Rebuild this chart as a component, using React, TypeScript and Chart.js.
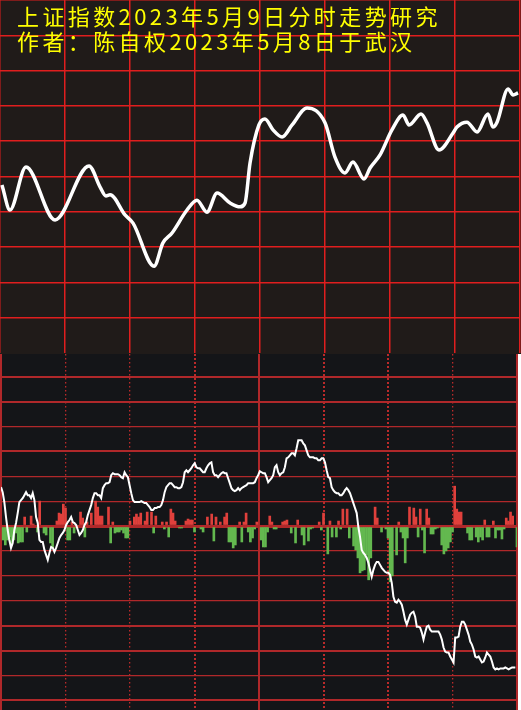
import React, { useEffect, useRef } from "react";
import { Chart, registerables } from "chart.js";

Chart.register(...registerables);

// ---------- text ----------
const TITLE_LINES = [
  "上证指数2023年5月9日分时走势研究",
  "作者：陈自权2023年5月8日于武汉",
];

// ---------- top panel: forecast curve (minute of session, grid level 0..10) ----------
const FORECAST_MINUTE = [
  0.9, 4.6, 12.0, 25.4, 41.1, 46.2, 48.9, 50.8, 57.7, 61.4,
  71.1, 75.2, 79.4, 86.3, 90.9, 95.5, 100.2, 106.2, 110.8, 113.1,
  115.4, 119.5, 122.3, 126.0, 130.2, 134.8, 141.7, 150.0, 154.6, 159.2,
  162.9, 168.0, 170.8, 175.4, 180.9, 186.0, 188.8, 194.3, 197.1, 202.6,
  209.1, 210.9, 215.5, 220.2, 225.2, 227.5, 229.4, 234.5, 236.8, 239.1,
];
const FORECAST_LEVEL = [
  4.76, 4.05, 5.27, 3.77, 5.3, 4.7, 4.45, 4.48, 3.91, 3.68,
  2.46, 3.12, 3.4, 4.05, 4.33, 3.99, 4.53, 4.25, 4.14, 4.25,
  5.38, 6.46, 6.63, 6.32, 6.12, 6.46, 6.94, 6.52, 5.55, 5.1,
  5.41, 4.93, 5.24, 5.61, 6.32, 6.74, 6.46, 6.77, 6.52, 5.75,
  6.23, 6.4, 6.54, 6.26, 6.77, 6.4, 6.54, 7.48, 7.31, 7.37,
];
const TOP_MINUTE_TICKS = [0, 30, 60, 90, 120, 150, 180, 210, 240];

// ---------- bottom panel: actual intraday line (evenly sampled over 240 min) ----------
const ACTUAL_LINE = [
  39, 34, 24, 9, -4, -14, -22, -17, -4, 3,
  13, 24, 26, 28, 31, 34, 31, 31, 28, 33,
  26, 9, 3, -14, -16, -16, -24, -29, -34, -27,
  -21, -22, -26, -22, -17, -12, -9, -7, -4, 1,
  4, 6, 9, 4, 3, 1, -4, -9, -7, -4,
  1, 4, 11, 16, 21, 28, 33, 33, 31, 31,
  28, 38, 41, 43, 43, 44, 51, 53, 52, 52,
  52, 51, 49, 48, 54, 51, 49, 41, 33, 26,
  24, 24, 24, 24, 25, 24, 23, 23, 21, 19,
  16, 16, 18, 18, 19, 19, 21, 26, 34, 39,
  41, 43, 43, 41, 39, 39, 38, 38, 39, 44,
  54, 56, 54, 56, 58, 61, 63, 59, 58, 58,
  56, 54, 54, 58, 61, 63, 64, 54, 51, 51,
  49, 51, 53, 54, 53, 53, 48, 43, 38, 36,
  35, 36, 38, 36, 38, 39, 40, 41, 43, 43,
  43, 43, 44, 48, 51, 55,
  54, 53, 53, 49, 44, 46, 48, 51, 59, 61,
  54, 51, 53, 54, 59, 68, 69, 71, 73, 73,
  71, 78, 86, 86, 86, 83, 81, 76, 71, 69,
  69, 69, 68, 68, 66, 66, 68, 68, 64, 56,
  49, 48, 39, 36, 34, 33, 33, 31, 31, 33,
  36, 38, 36, 33, 28, 23, 18, 13, -1, -11,
  -24, -27, -29, -32, -37, -44, -51, -44, -39, -36,
  -36, -39, -42, -44, -46, -47, -47, -49, -57, -71,
  -76, -77, -74, -76, -79, -86, -94, -99, -94, -89,
  -87, -86, -91, -101, -101, -102, -107, -114, -107, -101,
  -100, -104, -106, -106, -106, -106, -106, -109, -114, -122,
  -126, -127, -127, -131, -134, -137, -112, -112, -111, -101,
  -96, -96, -99, -104, -109, -116, -119, -124, -131, -132,
  -131, -134, -137, -136, -132, -127, -129, -131, -136, -142,
  -144, -143, -144, -143, -143, -143, -142, -143, -144, -143,
  -142, -142, -142,
];

// ---------- bottom panel: per-minute flow bars ----------
const FLOW_MINUTE = [
  1, 2, 3, 4, 5, 6, 7, 8, 9, 10, 11, 12, 14, 15, 17, 18, 20, 21, 23, 24,
  26, 27, 28, 29, 30, 31, 32, 33, 34, 37, 38, 39, 40, 42, 44, 45, 46, 47, 50, 51,
  52, 53, 54, 55, 56, 57, 58, 59, 60, 62, 63, 64, 65, 67, 68, 70, 71, 72, 75, 76,
  77, 78, 79, 80, 81, 83, 84, 86, 87, 88, 89, 90, 93, 94, 96, 98, 99, 100, 102, 104,
  105, 106, 107, 108, 109, 111, 112, 113, 114, 115, 116, 117, 118, 119,
  121, 122, 123, 124, 125, 126, 127, 128, 131, 132, 133, 135, 137, 138, 140, 141,
  143, 144, 145, 148, 149, 150, 152, 153, 154, 156, 157, 158, 159, 161, 162, 164,
  165, 166, 167, 168, 169, 170, 171, 172, 174, 175, 177, 179, 180, 181, 182, 184,
  185, 186, 187, 188, 189, 190, 192, 193, 194, 195, 196, 197, 198, 199, 200, 201,
  202, 203, 205, 206, 207, 208, 209, 210, 211, 212, 213, 214, 217, 218, 219, 221,
  222, 223, 224, 225, 226, 227, 229, 230, 231, 232, 233, 234, 235, 236, 237, 238, 240,
];
const FLOW_VALUE = [
  -14, -19, -14, -11, -19, -14, -7, -17, -16, -16, 9, -6, 10, 2, -6, 25, -7, -9, -17, -22,
  5, 13, 12, 22, 18, -14, -14, 4, -7, 14, 8, -11, 4, 13, 25, 19, 10, 10, 19, -17,
  4, -7, -6, -6, -4, -7, -12, -12, 5, 9, 12, 9, 13, 5, 14, 14, -7, 10, 4, -3,
  4, -11, 17, 13, 5, -2, -2, 5, 7, 6, 6, -6, -3, -6, 9, 12, -15, 9, 4, 9,
  13, -16, -16, -22, -19, 4, -16, 4, 13, -6, -16, -12, -3, 4,
  -14, -21, -21, -6, 10, 4, -3, -3, 4, 5, 6, -7, -17, 6, -9, -19,
  -15, -3, -2, 4, -4, 13, -28, 5, -11, -11, 5, -3, 17, 17, -12, -20,
  -24, -32, -47, -45, -44, -29, -54, -32, 19, 8, -6, -3, -12, -56, -50, -29,
  4, -6, -12, -37, -12, 19, 18, 9, -11, 17, -4, -27, 17, 8, -8, -8,
  -3, -2, -19, -28, -25, -22, -16, -6, 40, 17, 14, 14, -7, -14, -14, -11,
  -16, -11, -14, 6, -11, -11, 5, -12, -4, -4, -13, -3, 8, 5, 14, 10, -21,
];

const SESSION_MINUTES = 240;
const DOTTED_MINUTES = [30, 60, 90, 150, 180, 210];
const HEAVY_DOTTED = [90, 150, 180];
const SOLID_MINUTES = [0, 120, 240];
const LOWER_LEVELS = [-175, -150, -125, -100, -75, -50, -25, 0, 25, 50, 75, 100, 125, 150];
const THICK_LEVELS = [150, 125, 75, -100, -125, -175];

const TOP_BG = "#201b19";
const TOP_GRID = "#e01e1e";
const BOT_BG = "#141518";
const BOT_GRID = "#b0282a";
const DOT_GRID = "#bb2a2a";
const UP_RED = "#e0403c";
const DOWN_GREEN = "#63b84f";

export default function App() {
  const topRef = useRef<HTMLCanvasElement | null>(null);
  const botRef = useRef<HTMLCanvasElement | null>(null);

  useEffect(() => {
    const top = new Chart(topRef.current as HTMLCanvasElement, {
      type: "line",
      data: {
        datasets: [
          {
            data: FORECAST_MINUTE.map((m, i) => ({ x: m, y: FORECAST_LEVEL[i] })),
            borderColor: "#ffffff",
            borderWidth: 3.5,
            pointRadius: 0,
            cubicInterpolationMode: "monotone",
            fill: false,
          },
        ],
      },
      options: {
        animation: false,
        responsive: false,
        maintainAspectRatio: false,
        events: [],
        layout: { padding: { left: 0, right: 1, top: 0, bottom: 1 } },
        plugins: { legend: { display: false }, tooltip: { enabled: false } },
        scales: {
          x: {
            type: "linear",
            min: 0,
            max: SESSION_MINUTES,
            offset: false,
            afterBuildTicks: (s: any) => {
              s.ticks = TOP_MINUTE_TICKS.map((value) => ({ value }));
            },
            ticks: { display: false },
            grid: { offset: false, color: TOP_GRID, lineWidth: 1.5, drawTicks: false },
            border: { display: false },
          },
          y: {
            type: "linear",
            min: 0,
            max: 10,
            ticks: { display: false, stepSize: 1 },
            grid: {
              color: (c: any) => (c.tick && c.tick.value === 0 ? "rgba(0,0,0,0)" : TOP_GRID),
              lineWidth: 1.5,
              drawTicks: false,
            },
            border: { display: false },
          },
        },
      },
    } as any);

    const step = SESSION_MINUTES / ACTUAL_LINE.length;
    const bot = new Chart(botRef.current as HTMLCanvasElement, {
      type: "bar",
      data: {
        datasets: [
          {
            type: "line",
            data: ACTUAL_LINE.map((v, i) => ({ x: i * step, y: v })),
            borderColor: "#ffffff",
            borderWidth: 2,
            pointRadius: 0,
            tension: 0,
            fill: false,
            order: 0,
          },
          {
            type: "bar",
            data: FLOW_MINUTE.map((m, i) => ({ x: m, y: FLOW_VALUE[i] })),
            backgroundColor: FLOW_VALUE.map((v) => (v >= 0 ? UP_RED : DOWN_GREEN)),
            barThickness: 2,
            grouped: false,
            order: 1,
          },
        ],
      },
      options: {
        animation: false,
        responsive: false,
        maintainAspectRatio: false,
        events: [],
        layout: { padding: { left: 1, right: 1, top: 0, bottom: 0 } },
        plugins: { legend: { display: false }, tooltip: { enabled: false } },
        scales: {
          x: {
            type: "linear",
            min: 0,
            max: SESSION_MINUTES,
            offset: false,
            afterBuildTicks: (s: any) => {
              s.ticks = DOTTED_MINUTES.map((value) => ({ value }));
            },
            ticks: { display: false },
            grid: {
              offset: false,
              color: DOT_GRID,
              lineWidth: (c: any) => (c.tick && HEAVY_DOTTED.includes(c.tick.value) ? 2 : 1.3),
              drawTicks: false,
            },
            border: {
              display: false,
              dash: (c: any) => (c.tick && HEAVY_DOTTED.includes(c.tick.value) ? [2, 2] : [1.5, 2.5]),
            },
          },
          x2: {
            type: "linear",
            position: "bottom",
            min: 0,
            max: SESSION_MINUTES,
            offset: false,
            afterBuildTicks: (s: any) => {
              s.ticks = SOLID_MINUTES.map((value) => ({ value }));
            },
            ticks: { display: false },
            grid: {
              offset: false,
              color: BOT_GRID,
              lineWidth: (c: any) => (c.tick && c.tick.value === 240 ? 3 : 2),
              drawTicks: false,
            },
            border: { display: false },
          },
          y: {
            type: "linear",
            min: -184.7,
            max: 172.7,
            afterBuildTicks: (s: any) => {
              s.ticks = LOWER_LEVELS.map((value) => ({ value }));
            },
            ticks: { display: false },
            grid: {
              color: BOT_GRID,
              lineWidth: (c: any) => {
                const v = c.tick ? c.tick.value : 1;
                if (v === 0) return 3;
                return THICK_LEVELS.includes(v) ? 2 : 1.2;
              },
              drawTicks: false,
            },
            border: { display: false },
          },
        },
      },
    } as any);

    return () => {
      top.destroy();
      bot.destroy();
    };
  }, []);

  return (
    <div
      style={{
        position: "fixed",
        left: 0,
        top: 0,
        width: 521,
        height: 710,
        background: "#ffffff",
        overflow: "hidden",
      }}
    >
      <div style={{ position: "absolute", left: 0, top: 0, width: 521, height: 354, background: TOP_BG }}>
        <canvas ref={topRef} width={521} height={354} style={{ display: "block", width: 521, height: 354 }} />
      </div>
      <div style={{ position: "absolute", left: 0, top: 354, width: 518, height: 356, background: BOT_BG }}>
        <canvas ref={botRef} width={518} height={356} style={{ display: "block", width: 518, height: 356 }} />
      </div>
      <div
        style={{
          position: "absolute",
          left: 17,
          top: 3,
          color: "#ffff00",
          fontFamily: '"Noto Sans CJK SC", "Noto Sans", sans-serif',
          fontSize: 22,
          letterSpacing: "3.4px",
          lineHeight: "25px",
          whiteSpace: "pre",
        }}
      >
        {TITLE_LINES.map((t) => (
          <div key={t}>{t}</div>
        ))}
      </div>
    </div>
  );
}
